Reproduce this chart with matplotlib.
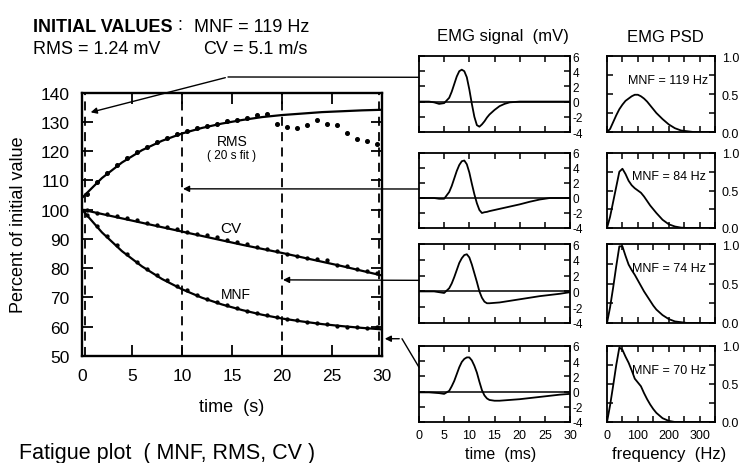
import matplotlib.pyplot as plt
from matplotlib.patches import ConnectionPatch
from matplotlib.ticker import MultipleLocator

plt.rcParams['font.family'] = ['Liberation Sans', 'DejaVu Sans']
plt.rcParams['axes.unicode_minus'] = False

# -----------------------------
# Fatigue plot data (percent of initial value)
# -----------------------------
fit_t = [0, 2, 4, 6, 8, 10, 12, 14, 16, 18, 20, 22, 24, 26, 28, 30]
rms_fit = [104.0, 110.8, 116.1, 120.3, 123.5, 126.0, 127.9, 129.4, 130.6, 131.6,
           132.3, 132.8, 133.3, 133.6, 133.9, 134.1]
cv_fit = [100.0, 98.5, 97.0, 95.5, 94.0, 92.5, 91.0, 89.5, 88.0, 86.6,
          85.2, 83.7, 82.2, 80.7, 79.1, 77.5]
mnf_fit = [100.0, 92.2, 85.8, 80.6, 76.3, 72.8, 69.9, 67.6, 65.7, 64.1,
           62.8, 61.8, 60.9, 60.2, 59.6, 59.1]

dot_t = [0.5, 1.5, 2.5, 3.5, 4.5, 5.5, 6.5, 7.5, 8.5, 9.5,
         10.5, 11.5, 12.5, 13.5, 14.5, 15.5, 16.5, 17.5, 18.5, 19.5,
         20.5, 21.5, 22.5, 23.5, 24.5, 25.5, 26.5, 27.5, 28.5, 29.5]
rms_dots = [105.5, 109.3, 112.6, 115.3, 117.6, 119.6, 121.5, 123.0, 124.4, 125.7,
            126.9, 127.9, 128.7, 129.4, 130.1, 130.7, 131.3, 132.2, 132.6, 129.4,
            128.3, 128.0, 129.0, 130.6, 129.4, 129.0, 126.3, 124.2, 123.4, 122.5]
cv_dots = [99.8, 99.0, 98.5, 97.8, 97.0, 96.3, 95.5, 94.8, 94.0, 93.3,
           92.5, 91.8, 91.2, 90.6, 89.6, 89.0, 88.2, 87.2, 86.5, 85.9,
           84.8, 84.2, 83.6, 83.0, 82.8, 81.0, 80.6, 79.8, 78.9, 78.3]
mnf_dots = [98.3, 94.5, 91.0, 87.8, 84.8, 82.2, 79.8, 77.6, 75.8, 74.0,
            72.4, 70.9, 69.6, 68.4, 67.4, 66.4, 65.5, 64.7, 64.0, 63.4,
            62.8, 62.2, 61.7, 61.3, 60.8, 60.3, 60.0, 59.8, 59.7, 60.0]

epoch_times = [0.3, 10, 20, 29.7]

# -----------------------------
# EMG signals (mV) at the four epochs
# -----------------------------
emg_t = [0, 2, 3, 4, 5, 6, 6.5, 7, 7.5, 8, 8.5, 9, 9.5, 10, 10.5, 11, 11.5,
         12, 12.5, 13, 13.5, 14, 15, 16, 17, 18, 20, 22, 24, 26, 28, 30]
emg_1 = [0, 0, -0.1, -0.3, -0.2, 0.5, 1.3, 2.3, 3.3, 4.0, 4.2, 4.0, 3.2, 1.6, -0.3, -2.0, -3.1,
         -3.3, -3.0, -2.6, -2.1, -1.7, -1.1, -0.6, -0.3, -0.1, 0, 0, 0, 0, 0, 0]
emg_2 = [0, 0, 0, -0.1, -0.1, 0.8, 1.6, 2.6, 3.6, 4.4, 4.9, 5.0, 4.5, 3.4, 1.9, 0.5, -0.7,
         -1.6, -2.0, -1.9, -1.85, -1.75, -1.6, -1.45, -1.3, -1.15, -0.85, -0.5, -0.2, 0, 0, 0]
emg_3 = [0, 0, 0, -0.1, -0.2, 0.4, 1.0, 1.8, 2.7, 3.6, 4.2, 4.6, 4.7, 4.3, 3.4, 2.3, 1.2,
         0.0, -0.8, -1.3, -1.5, -1.5, -1.45, -1.4, -1.3, -1.2, -1.0, -0.8, -0.6, -0.45, -0.3, -0.1]
emg_4 = [-0.1, -0.1, -0.15, -0.2, -0.3, 0.1, 0.7, 1.4, 2.3, 3.2, 3.9, 4.3, 4.5, 4.5, 4.1, 3.4, 2.5,
         1.3, 0.2, -0.5, -0.9, -1.1, -1.2, -1.2, -1.15, -1.1, -1.0, -0.85, -0.7, -0.55, -0.4, -0.3]

# -----------------------------
# EMG power spectral densities (normalised)
# -----------------------------
psd_f = [0, 10, 20, 30, 40, 50, 60, 70, 80, 90, 100, 110, 120, 130, 140, 150, 160,
         180, 200, 220, 240, 260, 280, 300, 350]
psd_1 = [0, 0.04, 0.13, 0.22, 0.30, 0.36, 0.41, 0.44, 0.47, 0.49, 0.49, 0.47, 0.44, 0.40,
         0.35, 0.30, 0.25, 0.17, 0.10, 0.05, 0.02, 0.01, 0, 0, 0]
psd_2 = [0, 0.15, 0.35, 0.55, 0.75, 0.79, 0.72, 0.63, 0.57, 0.53, 0.50, 0.47, 0.42, 0.36,
         0.30, 0.25, 0.20, 0.11, 0.05, 0.02, 0.005, 0, 0, 0, 0]
psd_3 = [0, 0.20, 0.45, 0.72, 0.97, 0.97, 0.85, 0.74, 0.67, 0.61, 0.54, 0.47, 0.40, 0.34,
         0.28, 0.22, 0.17, 0.10, 0.05, 0.02, 0.01, 0, 0, 0, 0]
psd_4 = [0, 0.22, 0.48, 0.75, 0.98, 0.95, 0.86, 0.78, 0.68, 0.57, 0.52, 0.47, 0.38, 0.30,
         0.23, 0.17, 0.12, 0.05, 0.015, 0, 0, 0, 0, 0, 0]
mnf_labels = ["MNF = 119 Hz", "MNF = 84 Hz", "MNF = 74 Hz", "MNF = 70 Hz"]

emg_all = [emg_1, emg_2, emg_3, emg_4]
psd_all = [psd_1, psd_2, psd_3, psd_4]

# -----------------------------
# Figure layout (pixel boxes)
# -----------------------------
W, H = 743, 464
fig = plt.figure(figsize=(W / 100, H / 100), dpi=100)


def box(x0, y0, x1, y1):
    return [x0 / W, 1 - y1 / H, (x1 - x0) / W, (y1 - y0) / H]


def ftext(x, y, s, **kw):
    kw.setdefault('va', 'center')
    fig.text(x / W, 1 - y / H, s, **kw)


# main fatigue plot
ax = fig.add_axes(box(82, 93.5, 382, 357))
ax.set_xlim(0, 30)
ax.set_ylim(50, 140)
for t in epoch_times:
    ax.axvline(t, color='black', lw=1.3, ls=(0, (5, 3.5)))
ax.plot(fit_t, rms_fit, color='black', lw=1.6)
ax.plot(fit_t, cv_fit, color='black', lw=1.6)
ax.plot(fit_t, mnf_fit, color='black', lw=1.6)
ax.plot(dot_t, rms_dots, 'o', color='black', ms=2.6)
ax.plot(dot_t, cv_dots, 'o', color='black', ms=2.1)
ax.plot(dot_t, mnf_dots, 'o', color='black', ms=2.1)
ax.xaxis.set_major_locator(MultipleLocator(5))
ax.yaxis.set_major_locator(MultipleLocator(10))
ax.tick_params(direction='in', length=8, width=1.3, top=True, right=True,
               labelsize=12.5, pad=9)
for s in ax.spines.values():
    s.set_linewidth(1.7)

ax.text(15, 123.4, "RMS", ha='center', va='center', fontsize=10)
ax.text(15, 118.6, "( 20 s fit )", ha='center', va='center', fontsize=8.5)
ax.text(14.9, 93.6, "CV", ha='center', va='center', fontsize=11)
ax.text(15.4, 71.2, "MNF", ha='center', va='center', fontsize=10)

# EMG signal and PSD panels
rows = [(57, 133), (154, 229), (245, 324), (347, 423)]
emg_axes = []
for i, (y0, y1) in enumerate(rows):
    ea = fig.add_axes(box(419, y0, 570, y1))
    ea.plot(emg_t, emg_all[i], color='black', lw=1.3)
    ea.axhline(0, color='black', lw=1.1)
    ea.set_xlim(0, 30)
    ea.set_ylim(-4, 6)
    ea.xaxis.set_major_locator(MultipleLocator(5))
    ea.yaxis.set_major_locator(MultipleLocator(2))
    ea.tick_params(direction='in', length=4, width=1.1, top=True, right=True,
                   labelleft=False, labelright=True, labelsize=8.5, pad=2)
    ea.tick_params(axis='x', labelbottom=(i == 3), labelsize=9, pad=5)
    for s in ea.spines.values():
        s.set_linewidth(1.3)
    emg_axes.append(ea)

    pa = fig.add_axes(box(607, y0, 715, y1))
    pa.plot(psd_f, psd_all[i], color='black', lw=1.3)
    pa.set_xlim(0, 350)
    pa.set_ylim(0, 1)
    pa.xaxis.set_major_locator(MultipleLocator(100))
    pa.xaxis.set_minor_locator(MultipleLocator(50))
    pa.yaxis.set_major_locator(MultipleLocator(0.5))
    pa.yaxis.set_minor_locator(MultipleLocator(0.25))
    pa.yaxis.set_major_formatter(lambda v, p: f"{v:.1f}")
    pa.tick_params(which='both', direction='in', length=4, width=1.1, top=True,
                   right=True, labelleft=False, labelright=True, labelsize=9, pad=5)
    pa.tick_params(axis='x', labelbottom=(i == 3), labelsize=9, pad=5)
    for s in pa.spines.values():
        s.set_linewidth(1.3)
    pa.text(0.57, 0.69, mnf_labels[i], transform=pa.transAxes,
            ha='center', va='center', fontsize=9)

# arrows linking each EMG epoch to the fatigue plot
arrow_kw = dict(arrowstyle='-|>', mutation_scale=9, color='black', lw=1.0)
elbow1 = (14.6, 145.3)
fig.add_artist(ConnectionPatch(xyA=(0, 0.72), coordsA=emg_axes[0].transAxes,
                               xyB=elbow1, coordsB=ax.transData, color='black', lw=1.0))
ax.annotate("", xy=(0.6, 133), xytext=elbow1, arrowprops=arrow_kw, annotation_clip=False)
fig.add_artist(ConnectionPatch(xyA=(0, 0.52), coordsA=emg_axes[1].transAxes,
                               xyB=(10.1, 107.1), coordsB=ax.transData, **arrow_kw))
fig.add_artist(ConnectionPatch(xyA=(0, 0.54), coordsA=emg_axes[2].transAxes,
                               xyB=(20.1, 76.0), coordsB=ax.transData, **arrow_kw))
elbow4 = (32.0, 55.9)
fig.add_artist(ConnectionPatch(xyA=(0, 0.72), coordsA=emg_axes[3].transAxes,
                               xyB=elbow4, coordsB=ax.transData, color='black', lw=1.0))
ax.annotate("", xy=(30.0, 55.9), xytext=elbow4, arrowprops=arrow_kw, annotation_clip=False)

# -----------------------------
# Texts
# -----------------------------
ftext(33, 27, "INITIAL VALUES", fontsize=13, fontweight='bold')
ftext(177, 26, ":", fontsize=13)
ftext(194, 27, "MNF = 119 Hz", fontsize=13)
ftext(33, 50, "RMS = 1.24 mV", fontsize=13)
ftext(203, 50, "CV", fontsize=13)
ftext(233, 50, "= 5.1 m/s", fontsize=13)
ftext(19, 225, "Percent of initial value", fontsize=13, rotation=90, ha='center')
ftext(232, 407, "time  (s)", fontsize=13, ha='center')
ftext(19, 454, "Fatigue plot  ( MNF, RMS, CV )", fontsize=15.5)
ftext(503, 37, "EMG signal  (mV)", fontsize=12, ha='center')
ftext(665, 37, "EMG PSD", fontsize=12, ha='center')
ftext(501, 455, "time  (ms)", fontsize=11.5, ha='center')
ftext(669, 455, "frequency  (Hz)", fontsize=12, ha='center')

fig.savefig("out.png", dpi=100)
